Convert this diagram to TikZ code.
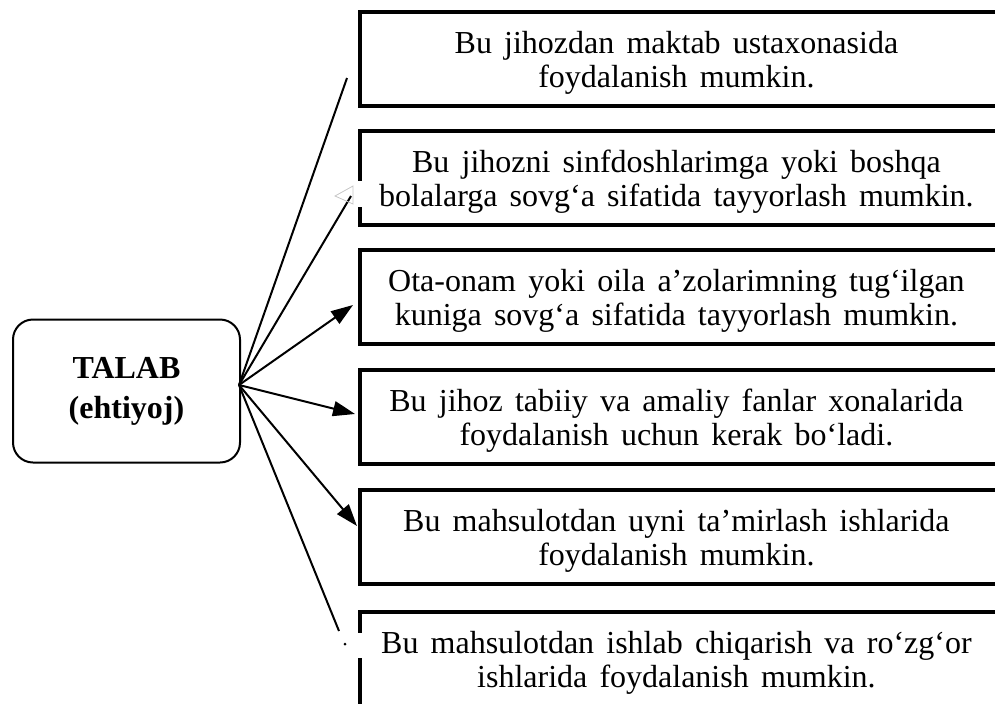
\documentclass[tikz,border=0pt]{standalone}
\usepackage{fontspec}
\setmainfont{Liberation Serif}
\usetikzlibrary{arrows.meta}

\newcommand\optfont{\fontsize{16}{17}\selectfont\spaceskip=0.38em\relax}

\tikzset{
  need/.style={draw, line width=1pt, rounded corners=10pt,
    minimum width=113.5pt, minimum height=71.5pt, align=center,
    font=\bfseries\fontsize{16}{20}\selectfont},
  option/.style={anchor=north west,
    minimum width=316pt, minimum height=46.5pt, align=center,
    font=\optfont},
  frame/.style={line width=2pt},
  ray/.style={line width=1pt},
  tip/.style={ray, -{Triangle[length=11pt,width=7.5pt]}}
}

\begin{document}
\begin{tikzpicture}[x=0.5pt, y=-0.5pt]
\useasboundingbox (0,0) rectangle (995,703);

% demand box on the left
\node [need] (talab) at (126.5,391) {TALAB\\(ehtiyoj)};

% option boxes (text sits a little low in its frame)
\node [option] (o1) at (360,16)  {Bu jihozdan maktab ustaxonasida\\foydalanish mumkin.};
\node [option] (o2) at (360,135) {Bu jihozni sinfdoshlarimga yoki boshqa\\bolalarga sovg‘a sifatida tayyorlash mumkin.};
\node [option] (o3) at (360,254) {Ota-onam yoki oila a’zolarimning tug‘ilgan\\kuniga sovg‘a sifatida tayyorlash mumkin.};
\node [option] (o4) at (360,374) {Bu jihoz tabiiy va amaliy fanlar xonalarida\\foydalanish uchun kerak bo‘ladi.};
\node [option] (o5) at (360,494) {Bu mahsulotdan uyni ta’mirlash ishlarida\\foydalanish mumkin.};
\node [option] (o6) at (360,616) {Bu mahsulotdan ishlab chiqarish va ro‘zg‘or\\ishlarida foydalanish mumkin.};

% frames run on past the right edge of the page
\foreach \o in {o1,o2,o3,o4,o5,o6}
  \draw [frame] ([shift={(10pt,2pt)}]\o.north east) -- ([yshift=2pt]\o.north west)
    -- ([yshift=2pt]\o.south west) -- ([shift={(10pt,2pt)}]\o.south east);

% ends of the rays
\coordinate (hub) at (239,385);
\coordinate (e1) at (347,78);
\coordinate (e2) at (351,196);
\coordinate (e3) at (353,305);
\coordinate (e4) at (355,414);
\coordinate (e5) at (357,526);
\coordinate (e6) at (339,631);

\draw [ray] (hub) -- (e1);
\draw [ray] (hub) -- (e2);
\draw [tip] (hub) -- (e3);
\draw [tip] (hub) -- (e4);
\draw [tip] (hub) -- (e5);
\draw [ray] (hub) -- (e6);

% broken tips at rays 2 and 6
\fill [white] (355,181) rectangle (365,207);
\fill [white] (353,633) rectangle (365,658);
\draw [gray!45, line width=0.4pt] (335,196) -- (353,186) -- (353,204) -- cycle;
\fill (345,644) circle (1.5);

\end{tikzpicture}
\end{document}
